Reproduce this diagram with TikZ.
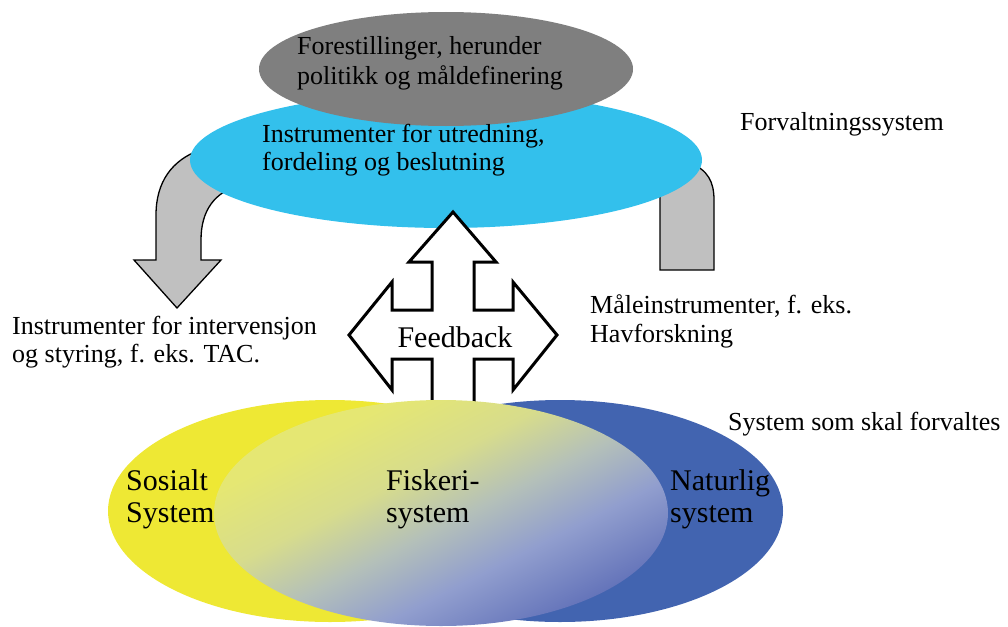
\documentclass[tikz,border=0pt]{standalone}
\usepackage{fontspec}
\setmainfont{Liberation Serif}
\definecolor{greyE}{RGB}{127,127,127}
\definecolor{cyanE}{RGB}{51,192,236}
\definecolor{arrowgrey}{RGB}{192,192,192}
\definecolor{yellowE}{RGB}{238,232,52}
\definecolor{blueE}{RGB}{66,100,176}
\definecolor{midtop}{RGB}{229,231,115}
\definecolor{midup}{RGB}{215,220,140}
\definecolor{midmid}{RGB}{180,192,185}
\definecolor{midlow}{RGB}{145,158,206}
\definecolor{midbot}{RGB}{92,108,182}
\pgfdeclareverticalshading{fishshade}{100bp}{color(0bp)=(midbot); color(24bp)=(midbot); color(38bp)=(midlow); color(48bp)=(midmid); color(58bp)=(midup); color(70bp)=(midtop); color(100bp)=(midtop)}
\begin{document}
\begin{tikzpicture}[x=1pt,y=-1pt,
  lbl/.style={inner sep=0pt, anchor=base west, font=\fontsize{26}{30}\selectfont},
  big/.style={inner sep=0pt, anchor=base west, font=\fontsize{30}{34}\selectfont},
  grarrow/.style={fill=arrowgrey, draw=black, line width=1.3pt, line join=miter},
  fbarrow/.style={fill=white, draw=black, line width=3pt, line join=miter}]
\useasboundingbox (0,0) rectangle (1008,626);
% grey curved arrows (behind the cyan ellipse)
\draw[grarrow] (240,185) .. controls (215,192) and (201,210) .. (201,240) -- (201,260) -- (221,260) -- (177,308) -- (134,260) -- (156,260) -- (156,215) .. controls (156,182) and (172,160) .. (200,150) -- cycle;
\draw[grarrow] (690,163) .. controls (708,170) and (714,182) .. (714,200) -- (714,270) -- (660,270) -- (660,185) -- cycle;
% management ellipses
\fill[cyanE] (446,160) ellipse [x radius=256, y radius=68];
\fill[greyE] (446,69) ellipse [x radius=187, y radius=57];
% feedback cross arrow
\draw[fbarrow] (432,420) -- (432,359) -- (392,359) -- (392,390) -- (349,335) -- (392,282) -- (392,310) -- (432,310) -- (432,262) -- (409,262) -- (453,212) -- (496,262) -- (474,262) -- (474,310) -- (513,310) -- (513,282) -- (557,335) -- (513,390) -- (513,359) -- (474,359) -- (474,420);
% managed systems
\fill[yellowE] (330,511) ellipse [x radius=222, y radius=111];
\fill[blueE] (560,511) ellipse [x radius=223, y radius=111];
\shade[shading=fishshade, shading angle=27] (441,513) ellipse [x radius=227, y radius=113];
% texts
\node[lbl] (g1) at (297,55) {Forestillinger, herunder};
\node[lbl] (g2) at (297,84) {politikk og måldefinering};
\node[lbl] (c1) at (262,142) {Instrumenter for utredning,};
\node[lbl] (c2) at (262,170) {fordeling og beslutning};
\node[lbl] (fs) at (740,130) {Forvaltningssystem};
\node[lbl] (l1) at (12,334) {Instrumenter for intervensjon};
\node[lbl] (l2) at (12,362) {og styring, f. eks. TAC.};
\node[lbl] (r1) at (590,313) {Måleinstrumenter, f. eks.};
\node[lbl] (r2) at (590,342) {Havforskning};
\node[big, anchor=base] (fb) at (455,347) {Feedback};
\node[lbl] (ss) at (728,430) {System som skal forvaltes};
\node[big] (s1) at (126,490) {Sosialt};
\node[big] (s2) at (126,522) {System};
\node[big] (f1) at (386,490) {Fiskeri-};
\node[big] (f2) at (386,522) {system};
\node[big] (n1) at (670,490) {Naturlig};
\node[big] (n2) at (670,522) {system};
\end{tikzpicture}
\end{document}
